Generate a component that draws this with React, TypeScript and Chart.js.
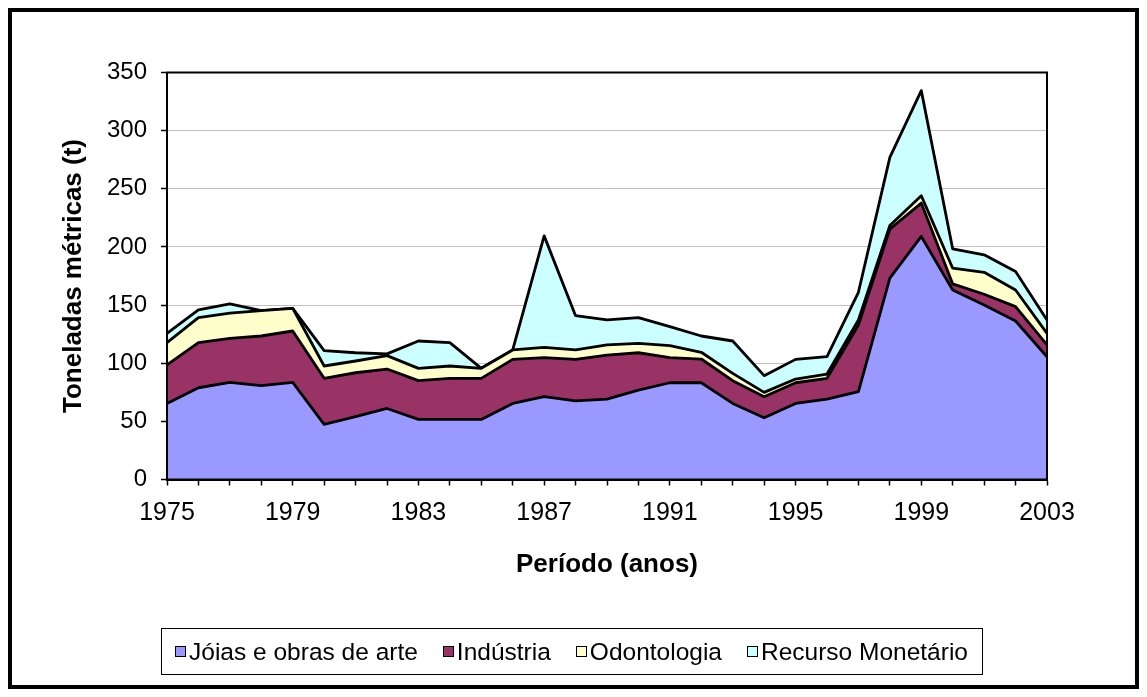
import React, { useEffect, useRef } from "react";
import { Chart, registerables } from "chart.js";

Chart.register(...registerables);

const years = [
  "1975", "1976", "1977", "1978", "1979", "1980", "1981", "1982", "1983", "1984",
  "1985", "1986", "1987", "1988", "1989", "1990", "1991", "1992", "1993", "1994",
  "1995", "1996", "1997", "1998", "1999", "2000", "2001", "2002", "2003",
];

const joias = [65.4, 78.9, 83.5, 80.7, 83.5, 47.4, 54.0, 61.1, 51.7, 51.7, 51.7, 65.4, 71.2, 67.7, 69.2, 76.9, 83.2, 83.2, 65.4, 53.1, 65.4, 69.2, 75.5, 173.1, 209.0, 163.0, 150.1, 136.3, 105.6];
const industria = [33.1, 38.8, 37.9, 42.7, 44.2, 39.6, 37.8, 33.9, 33.3, 35.3, 35.3, 37.9, 33.6, 35.6, 37.8, 32.1, 21.6, 20.4, 19.6, 18.1, 17.8, 17.8, 57.4, 42.2, 28.7, 5.2, 9.2, 12.4, 10.1];
const odontologia = [19.2, 21.5, 21.6, 21.8, 19.5, 10.6, 10.1, 11.5, 10.6, 10.6, 8.6, 8.1, 8.9, 8.1, 8.7, 8.1, 10.3, 5.8, 6.3, 3.7, 3.2, 3.7, 4.3, 3.1, 6.3, 13.5, 18.9, 14.3, 10.0];
const recurso = [8.0, 6.6, 8.0, 0, 0, 13.2, 7.1, 1.5, 23.5, 20.1, 0, 0, 95.8, 29.5, 21.5, 22.1, 16.4, 14.0, 27.8, 14.4, 16.9, 14.9, 23.8, 58.6, 90.4, 16.6, 15.0, 15.8, 11.5];

const seriesNames = ["Jóias e obras de arte", "Indústria", "Odontologia", "Recurso Monetário"];
const seriesColors = ["#9999FF", "#993366", "#FFFFCC", "#CCFFFF"];
const seriesData = [joias, industria, odontologia, recurso];

const FONT = "'Liberation Sans', Arial, Helvetica, sans-serif";

const framePlugin = {
  id: "plotFrame",
  afterDatasetsDraw(chart: any) {
    const { ctx, chartArea } = chart;
    ctx.save();
    ctx.strokeStyle = "#000";
    ctx.lineWidth = 2;
    ctx.strokeRect(chartArea.left, chartArea.top, chartArea.right - chartArea.left, chartArea.bottom - chartArea.top);
    ctx.restore();
  },
};

export default function App() {
  const canvasRef = useRef<HTMLCanvasElement | null>(null);

  useEffect(() => {
    if (!canvasRef.current) return;
    const chart = new Chart(canvasRef.current, {
      type: "line",
      data: {
        labels: years,
        datasets: seriesData.map((d, i) => ({
          label: seriesNames[i],
          data: d,
          backgroundColor: seriesColors[i],
          borderColor: "#000",
          borderWidth: 2.8,
          borderJoinStyle: "round",
          pointRadius: 0,
          tension: 0,
          fill: i === 0 ? "origin" : "-1",
        })),
      },
      options: {
        animation: false,
        responsive: false,
        layout: { padding: { left: 0, right: 88, top: 60.5, bottom: 95.5 } },
        plugins: {
          legend: { display: false },
          tooltip: { enabled: false },
        },
        scales: {
          x: {
            type: "category",
            offset: false,
            grid: {
              display: true,
              drawOnChartArea: false,
              drawTicks: true,
              tickLength: 6,
              tickColor: "#000",
              tickWidth: 1.5,
            },
            border: { display: true, color: "#000", width: 2 },
            ticks: {
              autoSkip: false,
              maxRotation: 0,
              minRotation: 0,
              padding: 13,
              color: "#000",
              font: { family: FONT, size: 25 },
              callback: (_v: any, index: number) => (index % 4 === 0 ? years[index] : ""),
            },
            title: {
              display: true,
              text: "Período (anos)",
              color: "#000",
              font: { family: FONT, size: 26, weight: "bold" },
              padding: { top: 0, bottom: 9 },
            },
            afterFit: (scale: any) => {
              scale.height = 110;
            },
          },
          y: {
            stacked: true,
            min: 0,
            max: 350,
            grid: {
              color: "#c0c0c0",
              lineWidth: 1,
              drawTicks: true,
              tickLength: 6,
              tickColor: "#000",
              tickWidth: 1.5,
            },
            border: { display: true, color: "#000", width: 2 },
            ticks: {
              stepSize: 50,
              padding: 14,
              color: "#000",
              font: { family: FONT, size: 24 },
            },
            title: {
              display: true,
              text: "Toneladas métricas (t)",
              color: "#000",
              font: { family: FONT, size: 26, weight: "bold" },
              padding: { top: 46, bottom: 0 },
            },
            afterFit: (scale: any) => {
              scale.width = 155;
            },
          },
        },
      },
      plugins: [framePlugin],
    });
    return () => chart.destroy();
  }, []);

  return (
    <div
      style={{
        position: "relative",
        width: 1131,
        height: 681,
        border: "4px solid #000",
        boxSizing: "border-box",
        background: "#fff",
      }}
    >
      <canvas ref={canvasRef} width={1123} height={673} style={{ display: "block" }} />
      <div
        style={{
          position: "absolute",
          left: 148.5,
          top: 616,
          width: 822,
          height: 47,
          border: "1px solid #000",
          boxSizing: "border-box",
          display: "flex",
          alignItems: "center",
          justifyContent: "center",
          fontFamily: FONT,
          fontSize: 24.5,
          color: "#000",
          whiteSpace: "nowrap",
        }}
      >
        {seriesNames.map((name, i) => (
          <div
            key={name}
            style={{ display: "flex", alignItems: "center", marginLeft: i === 0 ? 0 : 25 }}
          >
            <span
              style={{
                display: "inline-block",
                width: 11,
                height: 11,
                boxSizing: "border-box",
                border: "1.5px solid #000",
                background: seriesColors[i],
                marginRight: 3,
              }}
            />
            <span>{name}</span>
          </div>
        ))}
      </div>
    </div>
  );
}
